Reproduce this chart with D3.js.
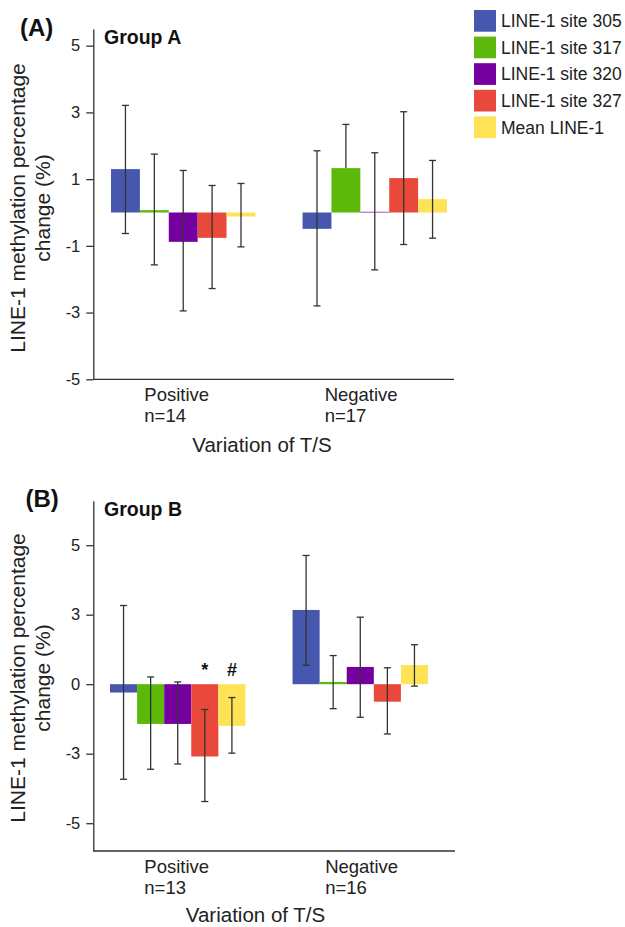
<!DOCTYPE html>
<html>
<head>
<meta charset="utf-8">
<script src="https://cdn.jsdelivr.net/npm/d3@7/dist/d3.min.js"></script>
<style>
  body { margin: 0; background: #fff; }
  svg { display: block; font-family: 'Liberation Sans', Arial, sans-serif; }
</style>
</head>
<body>
<div id="chart"></div>
<script>
// ---- data ----
const groups = ['Positive', 'Negative'];
const seriesNames = ['LINE-1 site 305', 'LINE-1 site 317', 'LINE-1 site 320', 'LINE-1 site 327', 'Mean LINE-1'];
const colors = ['#4657ae', '#5cb90b', '#7400a0', '#e9493a', '#fde355'];

const nA = ['n=14', 'n=17'];
const nB = ['n=13', 'n=16'];

// group A: bar means and error bar ends [low, high]
const meanA_pos = [1.30, 0.07, -0.88, -0.76, -0.12];
const errA_pos = [[-0.63, 3.21], [-1.57, 1.75], [-2.95, 1.26], [-2.28, 0.81], [-1.03, 0.87]];
const meanA_neg = [-0.49, 1.33, 0.02, 1.03, 0.40];
const errA_neg = [[-2.80, 1.85], [1.33, 2.64], [-1.72, 1.79], [-0.96, 3.02], [-0.77, 1.56]];

// group B
const meanB_pos = [-0.30, -1.43, -1.43, -2.60, -1.50];
const errB_pos = [[-3.42, 2.83], [-3.06, 0.26], [-2.87, 0.08], [-4.22, -0.91], [-2.48, -0.48]];
const meanB_neg = [2.67, 0.08, 0.62, -0.63, 0.69];
const errB_neg = [[0.68, 4.63], [-0.88, 1.03], [-1.19, 2.41], [-1.79, 0.59], [-0.07, 1.42]];
const marksB_pos = ['', '', '', '*', '#'];

const ticksA = [-5, -3, -1, 1, 3, 5];
const tickLabelsA = ['-5', '-3', '-1', '1', '3', '5'];
const ticksB = [-5, -2.5, 0, 2.5, 5];
const tickLabelsB = ['-5', '-3', '0', '3', '5'];

const { select, scaleLinear, scaleBand, axisLeft } = d3;

const W = 625, H = 927;
const svg = select('#chart').append('svg')
  .attr('width', W)
  .attr('height', H);

function panel(cfg) {
  const g = svg.append('g');

  const y = scaleLinear().domain(cfg.domain).range([cfg.bottom, cfg.top]);
  const x0 = scaleBand().domain(groups).range(cfg.barRange).paddingInner(cfg.padIn).paddingOuter(0);
  const x1 = scaleBand().domain(seriesNames).range([0, x0.bandwidth()]).padding(0);
  const xLab = scaleBand().domain(groups).range([cfg.left, cfg.right]); // category label slots

  // y axis
  const yAxis = axisLeft(y)
    .tickValues(cfg.ticks)
    .tickFormat((d, i) => cfg.tickLabels[i])
    .tickSize(7)
    .tickSizeOuter(0)
    .tickPadding(6);
  const yG = g.append('g')
    .attr('transform', `translate(${cfg.left},0)`)
    .call(yAxis);
  yG.selectAll('path, line').attr('stroke', '#333').attr('stroke-width', 1.3);
  yG.selectAll('text').attr('font-size', 16.5).attr('fill', '#222')
    .attr('font-family', "'Liberation Sans', Arial, sans-serif");

  // x axis line (no ticks)
  g.append('line')
    .attr('x1', cfg.left).attr('x2', cfg.right)
    .attr('y1', cfg.bottom).attr('y2', cfg.bottom)
    .attr('stroke', '#333').attr('stroke-width', 1.3);

  // bars + error bars per group
  cfg.data.forEach((gd, gi) => {
    const gx = x0(groups[gi]);
    const rows = seriesNames.map((s, i) => ({ s, i, v: gd.mean[i], e: gd.err[i], m: gd.marks ? gd.marks[i] : '' }));

    g.selectAll(null).data(rows).enter().append('rect')
      .attr('x', d => gx + x1(d.s))
      .attr('width', x1.bandwidth())
      .attr('y', d => y(Math.max(0, d.v)))
      .attr('height', d => Math.abs(y(d.v) - y(0)))
      .attr('fill', d => colors[d.i]);

    const eb = g.selectAll(null).data(rows).enter().append('g')
      .attr('stroke', '#333').attr('stroke-width', 1.3);
    const cx = d => gx + x1(d.s) + x1.bandwidth() / 2;
    eb.append('line')
      .attr('x1', cx).attr('x2', cx)
      .attr('y1', d => y(d.e[0])).attr('y2', d => y(d.e[1]));
    eb.append('line') // top cap
      .attr('x1', d => cx(d) - 3.5).attr('x2', d => cx(d) + 3.5)
      .attr('y1', d => y(d.e[1])).attr('y2', d => y(d.e[1]));
    eb.filter(d => d.e[0] < d.v).append('line') // bottom cap (one-sided bar has none)
      .attr('x1', d => cx(d) - 3.5).attr('x2', d => cx(d) + 3.5)
      .attr('y1', d => y(d.e[0])).attr('y2', d => y(d.e[0]));

    // significance marks
    g.selectAll(null).data(rows.filter(d => d.m)).enter().append('text')
      .attr('x', cx)
      .attr('y', y(0) - 8)
      .attr('text-anchor', 'middle')
      .attr('font-size', 18).attr('font-weight', 'bold').attr('fill', '#111')
      .text(d => d.m);

    // category label
    const lab = g.append('text')
      .attr('x', xLab(groups[gi]) + 51)
      .attr('y', cfg.bottom + 21.5)
      .attr('font-size', 18.5).attr('fill', '#222');
    lab.append('tspan').text(groups[gi]);
    lab.append('tspan').attr('x', xLab(groups[gi]) + 51).attr('dy', 21).text(cfg.n[gi]);
  });

  // x axis title
  g.append('text')
    .attr('x', cfg.xTitleX).attr('y', cfg.xTitleY)
    .attr('text-anchor', 'middle')
    .attr('font-size', 20.5).attr('fill', '#222')
    .text('Variation of T/S');

  // y axis title, two lines
  const yt = g.append('text')
    .attr('transform', `translate(25,${cfg.yTitleC}) rotate(-90)`)
    .attr('text-anchor', 'middle')
    .attr('font-size', 21).attr('fill', '#222');
  yt.append('tspan').attr('x', 0).attr('y', 0).text('LINE-1 methylation percentage');
  yt.append('tspan').attr('x', 0).attr('y', 24.5).text('change (%)');

  // panel tag and group title
  g.append('text')
    .attr('x', cfg.tagX).attr('y', cfg.tagY)
    .attr('font-size', 24).attr('font-weight', 'bold').attr('fill', '#111')
    .text(cfg.tag);
  g.append('text')
    .attr('x', 104).attr('y', cfg.titleY)
    .attr('font-size', 19.5).attr('font-weight', 'bold').attr('fill', '#111')
    .text(cfg.title);
}

panel({
  left: 93.3, right: 454, top: 29, bottom: 379.3,
  domain: [-5, 5.5], ticks: ticksA, tickLabels: tickLabelsA,
  barRange: [111, 447], padIn: 0.246,
  data: [{ mean: meanA_pos, err: errA_pos }, { mean: meanA_neg, err: errA_neg }],
  n: nA,
  tag: '(A)', tagX: 20, tagY: 35.5, title: 'Group A', titleY: 44.3,
  xTitleX: 262, xTitleY: 452, yTitleC: 208
});

panel({
  left: 93.3, right: 455, top: 500.7, bottom: 851,
  domain: [-6, 6.6], ticks: ticksB, tickLabels: tickLabelsB,
  barRange: [110, 428], padIn: 0.258,
  data: [{ mean: meanB_pos, err: errB_pos, marks: marksB_pos }, { mean: meanB_neg, err: errB_neg }],
  n: nB,
  tag: '(B)', tagX: 25.5, tagY: 507, title: 'Group B', titleY: 516,
  xTitleX: 255.5, xTitleY: 921.5, yTitleC: 678
});

// legend
const legend = svg.append('g');
const leg = legend.selectAll('g').data(seriesNames).enter().append('g')
  .attr('transform', (d, i) => `translate(474,${10 + i * 26.6})`);
leg.append('rect')
  .attr('width', 22).attr('height', 21.7)
  .attr('fill', (d, i) => colors[i]);
leg.append('text')
  .attr('x', 27).attr('y', 10.85).attr('dy', '0.36em')
  .attr('font-size', 17.5).attr('fill', '#222')
  .text(d => d);
</script>
</body>
</html>
